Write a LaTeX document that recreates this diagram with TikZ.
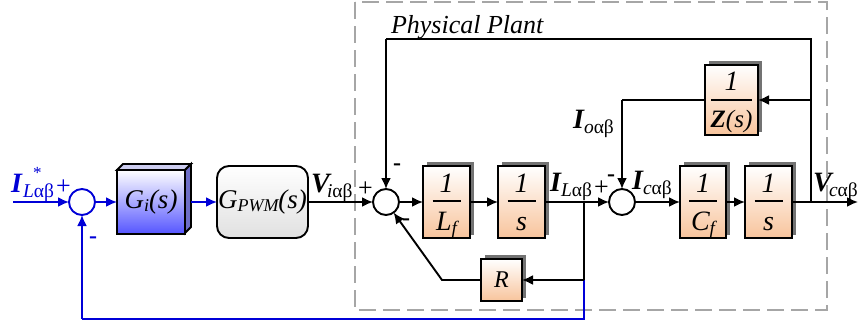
\documentclass[tikz,border=0pt]{standalone}
\usepackage{fontspec}
\setmainfont{Liberation Serif}
\usetikzlibrary{arrows.meta,calc}
\definecolor{myblue}{RGB}{0,0,215}
\definecolor{peachc}{RGB}{248,196,156}
\definecolor{gitop}{RGB}{205,205,240}
\definecolor{giside}{RGB}{110,110,200}
\definecolor{gibot}{RGB}{85,85,255}
\tikzset{
 x=1pt,y=-1pt,
 every node/.style={inner sep=0pt,outer sep=0pt},
 wire/.style={line width=1.9pt,-{Latex[length=11pt,width=10pt]}},
 plainline/.style={line width=1.9pt},
 bluewire/.style={wire,draw=myblue},
 sumj/.style={circle,draw,line width=1.9pt,minimum size=26pt,fill=white},
 peach/.style={draw,line width=1.9pt,top color=white,bottom color=peachc},
 bigI/.style={anchor=base west,font=\fontsize{28}{28}\selectfont\itshape\bfseries},
 subg/.style={anchor=base west,font=\fontsize{19.5}{20}\selectfont},
 plus/.style={anchor=base west,font=\fontsize{26}{26}\selectfont},
 minus/.style={anchor=base,font=\fontsize{24}{24}\selectfont\bfseries},
 fracnum/.style={font=\fontsize{28}{28}\selectfont\itshape,anchor=base},
}
\newcommand{\frbox}[6]{%
 \fill[black!55] (#2+4,#3-4) rectangle (#4+4,#5-3);
 \node[peach,minimum width={(#4)-(#2)},minimum height={(#5)-(#3)}] (#1) at ({(#2+#4)/2},{(#3+#5)/2}) {};
 #6
}
\newcommand{\fracin}[4]{%
 \draw[line width=1.4pt] ($(#1.center)+(-#4,-1)$) -- ($(#1.center)+(#4,-1)$);
 \node[fracnum] at ($(#1.center)+(0,-10)$) {#2};
 \node[fracnum] at ($(#1.center)+(0,28)$) {#3};
}
\begin{document}
\begin{tikzpicture}
\useasboundingbox (0,0) rectangle (858,324);
% dashed plant
\draw[draw=black!35,line width=1.9pt,dash pattern=on 17pt off 7pt] (355,2) rectangle (827,310);
\node[font=\fontsize{26}{26}\selectfont\itshape,anchor=base west] (plant) at (391,33) {Physical Plant};

% junctions
\node[sumj,draw=myblue] (s1) at (82,202) {};
\node[sumj] (s2) at (386,202) {};
\node[sumj] (s3) at (622,202) {};
\coordinate (inp) at (13,202);
\coordinate (outp) at (858,202);
\coordinate (j1) at (584,202);
\coordinate (j2) at (584,280);
\coordinate (j3) at (811,202);
\coordinate (j4) at (811,100);
\coordinate (c1) at (811,39);
\coordinate (c2) at (386,39);
\coordinate (c3) at (622,100);
\coordinate (c4) at (442,280);
\coordinate (b1) at (584,319);
\coordinate (b2) at (82,319);
\coordinate (giout) at (191,202);

% Gi 3D box
\draw[line width=1.9pt,fill=gitop] (117,170) -- (123,164) -- (191,164) -- (185,170) -- cycle;
\draw[line width=1.9pt,fill=giside] (185,170) -- (191,164) -- (191,227) -- (185,233) -- cycle;
\node[draw,line width=1.9pt,top color=white,bottom color=gibot,minimum width=68pt,minimum height=64pt] (gi) at (151,202) {};
\node[font=\fontsize{27}{27}\selectfont\itshape] (gitext) at (gi.center) {G\raisebox{-3pt}{\fontsize{18}{18}\selectfont i}(s)};

% GPWM
\node[draw,line width=1.9pt,rounded corners=12pt,top color=white,bottom color=black!12,minimum width=91pt,minimum height=72pt] (gp) at (262.5,202) {};
\node[font=\fontsize{27}{27}\selectfont\itshape] (gptext) at (gp.center) {G\raisebox{-3pt}{\fontsize{18}{18}\selectfont PWM}(s)};

% fraction boxes
\frbox{lf}{423}{166}{470}{238}{\fracin{lf}{1}{L\raisebox{-4pt}{\fontsize{19}{19}\selectfont f}}{14}}
\frbox{s1b}{498}{166}{545}{238}{\fracin{s1b}{1}{s}{14}}
\frbox{cf}{680}{166}{726}{238}{\fracin{cf}{1}{C\raisebox{-4pt}{\fontsize{19}{19}\selectfont f}}{14}}
\frbox{s2b}{745}{166}{792}{238}{\fracin{s2b}{1}{s}{14}}
\frbox{zb}{705}{65}{758}{135}{}
\draw[line width=1.4pt] (711,100) -- (752,100);
\node[fracnum] (z1) at (731.5,90) {1};
\node[font=\fontsize{25}{25}\selectfont\itshape,anchor=base] (z2) at (731.5,127) {\textbf{Z}(s)};
\frbox{rb}{481}{259}{522}{301}{\node[font=\fontsize{24}{24}\selectfont\itshape] (rt) at (rb.center) {R};}

% blue connectors
\draw[bluewire] (inp) -- (s1);
\draw[bluewire] (s1) -- (gi);
\draw[bluewire] (giout) -- (gp);
\draw[plainline,draw=myblue] (j2) -- (b1) -- (b2);
\draw[bluewire] (b2) -- (s1);
% black connectors
\draw[wire] (gp) -- (s2);
\draw[wire] (s2) -- (lf);
\draw[wire] (lf) -- (s1b);
\draw[plainline] (s1b) -- (j1);
\draw[wire] (j1) -- (s3);
\draw[wire] (s3) -- (cf);
\draw[wire] (cf) -- (s2b);
\draw[wire] (s2b) -- (outp);
\draw[plainline] (j1) -- (j2);
\draw[wire] (j2) -- (rb);
\draw[wire] (rb) -- (c4) -- (s2);
\draw[plainline] (j3) -- (c1) -- (c2);
\draw[wire] (c2) -- (s2);
\draw[wire] (j4) -- (zb);
\draw[plainline] (zb) -- (c3);
\draw[wire] (c3) -- (s3);

% labels
\node[bigI,text=myblue] (l1) at (11,192) {I};
\node[subg,text=myblue] (l2) at (23,197) {\textit{L}αβ};
\node[anchor=base west,text=myblue,font=\fontsize{17}{17}\selectfont] (l3) at (33,178) {*};
\node[plus,text=myblue] (l4) at (56,194) {+};
\node[minus,text=myblue] (l5) at (93,243) {-};

\node[bigI] (l6) at (311,192) {V};
\node[subg] (l7) at (327,197) {\textit{i}αβ};
\node[plus] (l8) at (358,196) {+};
\node[minus] (l9) at (397,170) {-};
\node[minus] (l10) at (406,225) {-};

\node[bigI] (l11) at (550,191) {I};
\node[subg] (l12) at (561,196) {\textit{L}αβ};
\node[plus] (l13) at (594,195) {+};
\node[minus] (l14) at (611,181) {-};

\node[bigI] (l15) at (632,189) {I};
\node[subg] (l16) at (643,194) {\textit{c}αβ};

\node[bigI] (l17) at (573,128) {I};
\node[subg] (l18) at (584,133) {\textit{o}αβ};

\node[bigI] (l19) at (813,191) {V};
\node[subg] (l20) at (829,196) {\textit{c}αβ};
\end{tikzpicture}
\end{document}
